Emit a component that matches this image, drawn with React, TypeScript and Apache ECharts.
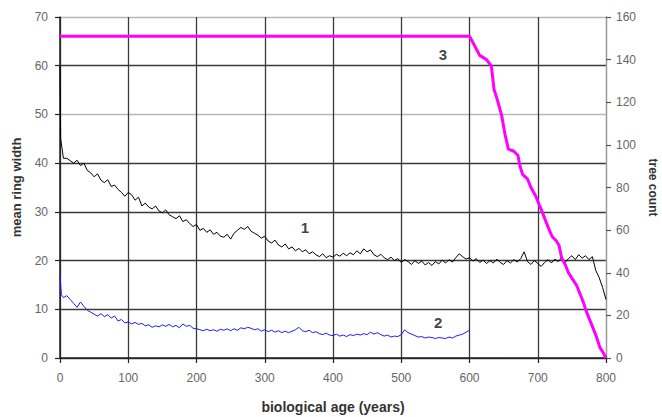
import React, { useEffect, useRef } from "react";
import * as echarts from "echarts";

// Series 1: mean ring width (black) [age, value]
const ringWidth1: [number, number][] = [
  [0, 60], [1, 45], [3, 43], [5, 41], [10, 41], [15, 40.5], [20, 40], [25, 40.6], [30, 39.5], [35, 40],
  [40, 38.5], [45, 38], [50, 37.2], [55, 37.8], [60, 36.5], [65, 36], [70, 36.6], [75, 35.2], [80, 35.5],
  [85, 34.6], [90, 34], [95, 33.2], [100, 34], [105, 33.5], [110, 32.4], [115, 33], [120, 31.2], [125, 31.8],
  [130, 31], [135, 30.6], [140, 31.2], [145, 30.2], [150, 29.8], [155, 30.4], [160, 29.4], [165, 29],
  [170, 28.6], [175, 29.2], [180, 28], [185, 28.4], [190, 27.6], [195, 27], [200, 27.4], [205, 26.2],
  [210, 26.6], [215, 25.8], [220, 26.3], [225, 25.4], [230, 25.8], [235, 25], [240, 24.8], [245, 25.4],
  [250, 24.4], [255, 25.6], [260, 26.2], [265, 26.8], [270, 26.4], [275, 27], [280, 26], [285, 25.6],
  [290, 25.2], [295, 24.6], [300, 25], [305, 24], [310, 23.6], [315, 24.2], [320, 23.2], [325, 22.8],
  [330, 23.4], [335, 22.4], [340, 22.8], [345, 22], [350, 22.5], [355, 21.8], [360, 22.2], [365, 21.4],
  [370, 21.8], [375, 21.2], [380, 20.8], [385, 21.4], [390, 20.6], [395, 21], [400, 20.7], [405, 21.3],
  [410, 20.9], [415, 21.5], [420, 21], [425, 21.6], [430, 21.2], [435, 22], [440, 21.4], [445, 22.4],
  [450, 21.8], [455, 22.2], [460, 21.2], [465, 20.8], [470, 21.3], [475, 20.6], [480, 20.2], [485, 20.7],
  [490, 20], [495, 20.4], [500, 19.6], [505, 20.2], [510, 19.8], [515, 19.2], [520, 20], [525, 19.4],
  [530, 19.9], [535, 19.1], [540, 19.6], [545, 19], [550, 19.8], [555, 19.3], [560, 20.1], [565, 19.5],
  [570, 20.2], [575, 19.7], [580, 20.6], [585, 21.4], [590, 20.8], [595, 20.3], [600, 20.6], [605, 19.9],
  [610, 20.4], [615, 19.6], [620, 20.1], [625, 19.4], [630, 20], [635, 19.5], [640, 20.3], [645, 19.6],
  [650, 19.2], [655, 20], [660, 19.5], [665, 20.2], [670, 19.7], [675, 20.4], [680, 21.8], [685, 19.8],
  [690, 19.2], [695, 20], [700, 19.4], [705, 18.8], [710, 19.6], [715, 20.2], [720, 19.5], [725, 20.3],
  [730, 19.8], [735, 20.6], [740, 19.6], [745, 20.4], [750, 21], [755, 20.2], [760, 21.2], [765, 20.5],
  [770, 21], [775, 20.2], [780, 20.8], [785, 18], [790, 16.5], [795, 14.5], [800, 12],
];

// Series 2: mean ring width (blue) [age, value]
const ringWidth2: [number, number][] = [
  [0, 17], [2, 13], [5, 12.4], [10, 12.8], [15, 12], [20, 11.2], [25, 10.4], [30, 11.5], [35, 10.6],
  [40, 9.8], [45, 9.4], [50, 9], [55, 8.6], [60, 9.1], [65, 8.5], [70, 8.9], [75, 8.2], [80, 8.6],
  [85, 7.6], [90, 7.9], [95, 7.2], [100, 7.4], [105, 7], [110, 7.3], [115, 6.9], [120, 7.1], [125, 6.6],
  [130, 6.8], [135, 6.3], [140, 6.6], [145, 6.4], [150, 6.8], [155, 6.5], [160, 6.9], [165, 6.4],
  [170, 6.7], [175, 6.2], [180, 7], [185, 6.5], [190, 6.7], [195, 6.1], [200, 6], [205, 5.8], [210, 5.6],
  [215, 5.9], [220, 5.6], [225, 5.8], [230, 5.5], [235, 5.9], [240, 5.7], [245, 6], [250, 5.6], [255, 6],
  [260, 5.7], [265, 6.2], [270, 6], [275, 6.3], [280, 6.1], [285, 5.8], [290, 6], [295, 5.5], [300, 5.8],
  [305, 5.4], [310, 5.7], [315, 5.3], [320, 5.6], [325, 5.2], [330, 5.5], [335, 5.2], [340, 5.5],
  [345, 5.8], [350, 6.3], [355, 5.6], [360, 5.4], [365, 5.7], [370, 5.2], [375, 5.4], [380, 5], [385, 4.8],
  [390, 5.1], [395, 4.7], [400, 4.6], [405, 4.9], [410, 4.5], [415, 4.7], [420, 4.4], [425, 4.8],
  [430, 4.6], [435, 4.9], [440, 4.7], [445, 5], [450, 4.8], [455, 5.3], [460, 4.9], [465, 5.2], [470, 4.8],
  [475, 4.5], [480, 4.7], [485, 4.3], [490, 4.5], [495, 4.4], [500, 4.8], [505, 5.8], [510, 5.2],
  [515, 4.9], [520, 4.6], [525, 4.3], [530, 4.4], [535, 4.1], [540, 4.3], [545, 4.2], [550, 4],
  [555, 4.2], [560, 4.1], [565, 4], [570, 4.3], [575, 4.1], [580, 4.5], [585, 4.7], [590, 4.9],
  [595, 5.3], [600, 5.7],
];

// Series 3: tree count (magenta, right axis) [age, count]
const treeCount: [number, number][] = [
  [0, 151], [600, 151], [605, 148], [610, 145], [615, 142], [625, 140], [632, 137], [636, 126], [640, 122],
  [647, 114], [652, 105], [657, 98], [665, 97], [671, 95], [674, 90], [678, 86], [685, 84], [690, 80],
  [697, 76], [702, 72], [706, 69], [712, 64], [717, 60], [721, 57], [727, 55], [731, 53], [735, 47],
  [740, 44], [745, 40], [751, 37], [757, 34], [762, 30], [767, 26], [771, 22], [776, 18], [781, 14],
  [786, 10], [791, 5], [795, 3], [800, 0],
];

// Curve labels [age, left-axis value, text]
const curveLabels: [number, number, string][] = [
  [359, 26.7, "1"],
  [554, 7.2, "2"],
  [561, 62.4, "3"],
];

const FONT = "'Liberation Sans', Arial, sans-serif";
const DARK = "#3a3a3a";
const LIGHT = "#b8b8b8";

export default function App() {
  const ref = useRef<HTMLDivElement>(null);
  useEffect(() => {
    if (!ref.current) return;
    const chart = echarts.init(ref.current, undefined, { renderer: "svg" });
    chart.setOption({
      animation: false,
      backgroundColor: "#ffffff",
      grid: {
        left: 60,
        right: 56,
        top: 17,
        bottom: 59,
        containLabel: false,
        outerBoundsMode: "none",
      },
      xAxis: {
        type: "value",
        min: 0,
        max: 800,
        interval: 100,
        name: "biological age (years)",
        nameLocation: "middle",
        nameGap: 42,
        nameTextStyle: { fontFamily: FONT, fontWeight: "bold", fontSize: 14, color: "#333" },
        axisLine: { show: true, lineStyle: { color: "#222", width: 1.5 } },
        axisTick: { show: true, length: 5, lineStyle: { color: "#222", width: 1.2 } },
        axisLabel: { color: "#666", fontSize: 12, margin: 14, fontFamily: FONT },
        splitLine: {
          show: true,
          lineStyle: { color: [DARK, DARK, DARK, DARK, DARK, DARK, DARK, DARK, LIGHT], width: 1.3 },
        },
      },
      yAxis: [
        {
          type: "value",
          min: 0,
          max: 70,
          interval: 10,
          name: "mean ring width",
          nameLocation: "middle",
          nameRotate: 90,
          nameGap: 37,
          nameTextStyle: { fontFamily: FONT, fontWeight: "bold", fontSize: 13, color: "#333" },
          axisLine: { show: true, lineStyle: { color: "#222", width: 1.5 } },
          axisTick: { show: true, length: 5, lineStyle: { color: "#222", width: 1.2 } },
          axisLabel: { color: "#666", fontSize: 12, margin: 12, fontFamily: FONT },
          splitLine: {
            show: true,
            lineStyle: { color: [DARK, DARK, DARK, DARK, DARK, LIGHT, DARK, LIGHT], width: 1.3 },
          },
        },
        {
          type: "value",
          position: "right",
          min: 0,
          max: 160,
          interval: 20,
          name: "tree count",
          nameLocation: "middle",
          nameRotate: -90,
          nameGap: 40,
          nameTextStyle: { fontFamily: FONT, fontWeight: "bold", fontSize: 12, color: "#333" },
          axisLine: { show: true, lineStyle: { color: "#999", width: 1.3 } },
          axisTick: { show: true, length: 5, lineStyle: { color: "#555", width: 1.2 } },
          axisLabel: { color: "#666", fontSize: 12, margin: 10, fontFamily: FONT },
          splitLine: { show: false },
        },
      ],
      series: [
        {
          type: "line",
          yAxisIndex: 0,
          data: ringWidth1,
          showSymbol: false,
          lineStyle: { color: "#000", width: 1 },
          z: 3,
        },
        {
          type: "line",
          yAxisIndex: 0,
          data: ringWidth2,
          showSymbol: false,
          lineStyle: { color: "#1a1aff", width: 1 },
          z: 3,
        },
        {
          type: "line",
          yAxisIndex: 1,
          data: treeCount,
          showSymbol: false,
          lineStyle: { color: "#ff00ff", width: 3 },
          z: 4,
        },
        {
          type: "scatter",
          yAxisIndex: 0,
          data: curveLabels,
          symbolSize: 0,
          z: 5,
          label: {
            show: true,
            position: "inside",
            formatter: (p: any) => p.data[2],
            fontFamily: FONT,
            fontWeight: "bold",
            fontSize: 15,
            color: "#111",
          },
        },
      ],
    });
    return () => chart.dispose();
  }, []);
  return (
    <div
      ref={ref}
      style={{ position: "fixed", left: 0, top: 0, width: 662, height: 417, background: "#fff" }}
    />
  );
}
